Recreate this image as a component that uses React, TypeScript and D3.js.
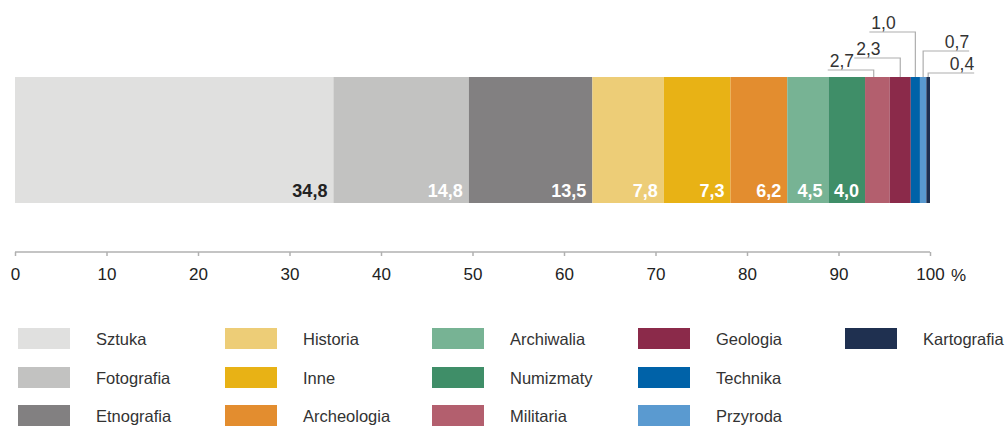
import React, { useRef, useEffect } from "react";
import * as d3 from "d3";

const categories = [
  "Sztuka", "Fotografia", "Etnografia", "Historia", "Inne", "Archeologia", "Archiwalia",
  "Numizmaty", "Militaria", "Geologia", "Technika", "Przyroda", "Kartografia",
];
const values = [34.8, 14.8, 13.5, 7.8, 7.3, 6.2, 4.5, 4.0, 2.7, 2.3, 1.0, 0.7, 0.4];
const colors = [
  "#e0e0df", "#c2c2c1", "#828081", "#edcd77", "#e8b215", "#e38d2f", "#77b394",
  "#3f8e68", "#b35f6e", "#8b2a4a", "#0062a8", "#5a9ad0", "#1f3050",
];
const xTicks = [0, 10, 20, 30, 40, 50, 60, 70, 80, 90, 100];
// small segments get a leader line label above the bar
const calloutNames = ["Militaria", "Geologia", "Technika", "Przyroda", "Kartografia"];

const fmt = (v: number) => v.toFixed(1).replace(".", ",");

const App: React.FC = () => {
  const svgRef = useRef<SVGSVGElement>(null);

  useEffect(() => {
    if (!svgRef.current) return;
    const svg = d3.select(svgRef.current);
    svg.selectAll("*").remove();

    const font = "'Liberation Sans', Arial, sans-serif";
    const x = d3.scaleLinear().domain([0, 100]).range([15, 930]);
    const barTop = 77;
    const barH = 126;

    let acc = 0;
    const segs = categories.map((name, i) => {
      const s = { name, value: values[i], color: colors[i], x0: acc, x1: acc + values[i] };
      acc += values[i];
      return s;
    });

    svg.append("g")
      .selectAll("rect")
      .data(segs)
      .join("rect")
      .attr("x", (d) => x(d.x0))
      .attr("y", barTop)
      .attr("width", (d) => x(d.x1) - x(d.x0))
      .attr("height", barH)
      .attr("fill", (d) => d.color);

    // inside labels
    svg.append("g")
      .selectAll("text")
      .data(segs.filter((d) => !calloutNames.includes(d.name)))
      .join("text")
      .attr("x", (d) => x(d.x1) - 6)
      .attr("y", barTop + 120)
      .attr("text-anchor", "end")
      .attr("font-family", font)
      .attr("font-size", 18)
      .attr("font-weight", "bold")
      .attr("fill", (d, i) => (i === 0 ? "#222" : "#fff"))
      .text((d) => fmt(d.value));

    // leader labels
    const levels: Record<string, { y: number; dir: number; off: number }> = {
      Militaria: { y: 70, dir: -1, off: -0.4 },
      Geologia: { y: 58, dir: -1, off: 0 },
      Technika: { y: 32, dir: -1, off: 0 },
      Przyroda: { y: 51, dir: 1, off: 0 },
      Kartografia: { y: 73, dir: 1, off: 0 },
    };
    const lead = svg.append("g");
    segs.filter((d) => calloutNames.includes(d.name)).forEach((d) => {
      const lv = levels[d.name];
      const cx = x((d.x0 + d.x1) / 2 + lv.off);
      const ex = cx + lv.dir * 46;
      lead.append("path")
        .attr("d", `M${ex},${lv.y}H${cx}V${barTop}`)
        .attr("fill", "none")
        .attr("stroke", "#aeaeae")
        .attr("stroke-width", 1.2);
      lead.append("text")
        .attr("x", lv.dir < 0 ? ex + 2 : ex)
        .attr("y", lv.y - 3)
        .attr("text-anchor", lv.dir < 0 ? "start" : "end")
        .attr("font-family", font)
        .attr("font-size", 17.5)
        .attr("fill", "#333")
        .text(fmt(d.value));
    });

    // axis
    const axis = svg.append("g")
      .attr("transform", "translate(0,252)")
      .call(d3.axisBottom(x).tickValues(xTicks).tickSize(4).tickPadding(12).tickFormat((d) => String(d)));
    axis.select(".domain").attr("stroke", "#b0b0b0").attr("stroke-width", 1.5).attr("d", `M${x(0)},0H${x(100)}`);
    axis.selectAll(".tick line").attr("stroke", "#b0b0b0").attr("stroke-width", 1.5);
    axis.selectAll(".tick text")
      .attr("font-family", font)
      .attr("font-size", 17)
      .attr("fill", "#222");
    svg.append("text")
      .attr("x", 951)
      .attr("y", 281)
      .attr("font-family", font)
      .attr("font-size", 17)
      .attr("fill", "#222")
      .text("%");

    // legend
    const colX = [18, 225, 432, 638, 845];
    const rowY = [328, 367, 405];
    const leg = svg.append("g")
      .selectAll("g")
      .data(segs)
      .join("g")
      .attr("transform", (d, i) => `translate(${colX[Math.floor(i / 3)]},${rowY[i % 3]})`);
    leg.append("rect")
      .attr("width", 52)
      .attr("height", 21)
      .attr("fill", (d) => d.color);
    leg.append("text")
      .attr("x", 78)
      .attr("y", 17)
      .attr("font-family", font)
      .attr("font-size", 16.5)
      .attr("fill", "#333")
      .text((d) => d.name);

    return () => {
      svg.selectAll("*").remove();
    };
  }, []);

  return (
    <svg
      ref={svgRef}
      width={1008}
      height={426}
      style={{ position: "absolute", left: 0, top: 0, background: "#fff" }}
    ></svg>
  );
};

export default App;
